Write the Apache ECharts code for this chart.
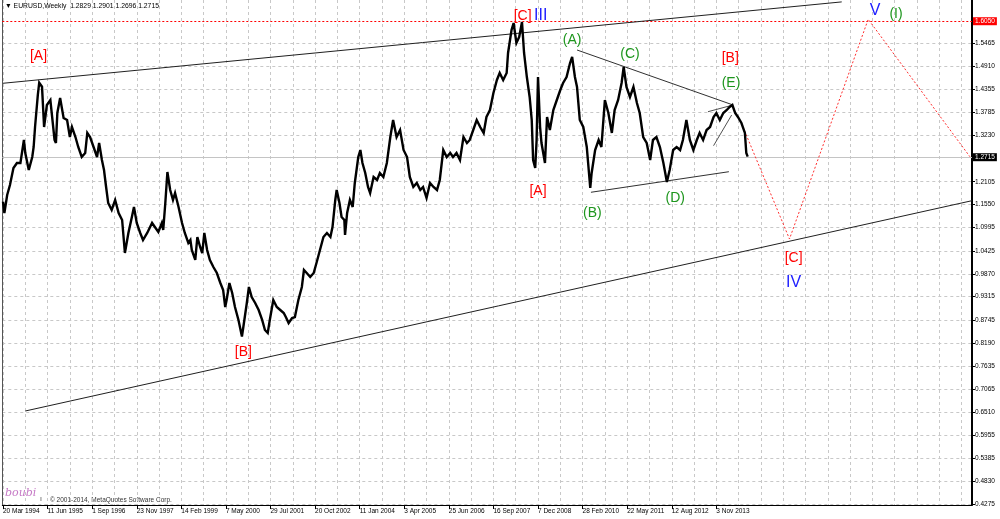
<!DOCTYPE html>
<html><head><meta charset="utf-8">
<script src="https://cdn.jsdelivr.net/npm/echarts@6/dist/echarts.min.js"></script>
<style>html,body{margin:0;padding:0;background:#fff}#c{width:1000px;height:519px}</style>
</head><body><div id="c"></div>
<script>
// ---- DATA (weeks counted from 20 Mar 1994, EURUSD weekly) ----
const priceWeeks = [0,2,6,10,15,20,25,30,32,37,42,44,46,50,52,56,59,63,68,70,74,76,78,82,87,92,96,99,104,108,113,118,121,125,130,135,138,142,145,148,151,156,161,166,171,175,180,185,188,192,197,201,207,214,218,223,228,230,233,236,240,244,247,252,257,261,266,269,
271,276,279,283,286,289,293,297,302,307,312,316,319,321,325,329,333,338,343,345,350,353,357,362,367,372,376,380,383,388,393,398,403,406,410,415,419,424,429,432,436,441,446,450,455,460,465,470,473,477,479,483,486,490,491,494,498,502,505,510,513,516,520,524,527,
532,537,541,546,551,556,560,565,570,575,580,584,589,594,599,603,608,613,618,623,627,632,637,642,646,651,656,661,666,670,675,680,685,690,694,699,704,709,713,718,723,725,730,733,737,741,745,748,752,756,759,761,764,766,768,771,773,778,781,785,
790,795,800,804,809,814,817,821,824,828,833,838,843,845,850,855,859,864,869,874,878,883,888,891,895,900,905,910,914,919,924,929,933,938,943,948,953,957,962,967,972,976,981,986,991,996,1000,1005,1010,1015,1020,1024,1029,1034,1039,1043,1047,1051,1055,1060,1065,1067,1069];
const priceCloses = [1.1620,1.1346,1.1783,1.2026,1.2438,1.2560,1.2560,1.3118,1.2802,1.2390,1.2705,1.2948,1.3433,1.4210,1.4508,1.4411,1.3433,1.3967,1.4088,1.4088,1.3118,1.3045,1.3773,1.4137,1.3651,1.3603,1.3190,1.3433,1.3190,1.2948,1.2705,1.2802,1.3288,1.3190,1.2948,1.2705,1.3045,1.2632,1.2390,1.1977,1.1589,1.1419,1.1662,1.1346,1.1176,1.0375,1.0861,1.1249,1.1492,1.1104,1.0861,1.0691,1.0861,1.1104,1.1006,1.0885,1.1104,1.0934,1.1589,1.2341,1.1904,1.1662,1.1831,1.1492,1.1104,1.0861,1.0618,1.0691,
1.0448,1.0206,1.0764,1.0521,1.0375,1.0861,1.0448,1.0206,1.0036,0.9890,0.9647,0.9478,0.9065,0.9235,0.9647,0.9405,0.9065,0.8750,0.8350,0.8580,0.9162,0.9550,0.9308,0.9162,0.8992,0.8750,0.8507,0.8434,0.8750,0.9235,0.9065,0.8992,0.8920,0.8822,0.8677,0.8798,0.8822,0.9235,0.9550,0.9963,0.9890,0.9793,0.9890,1.0133,1.0448,1.0764,1.0861,1.0764,1.1006,1.1662,1.1904,1.1589,1.1249,1.1176,1.0812,1.1346,1.1662,1.1492,1.2074,1.2705,1.2875,1.2560,1.2317,1.1977,1.1831,
1.2220,1.2147,1.2317,1.2220,1.2560,1.3190,1.3603,1.3190,1.3360,1.2875,1.2705,1.2220,1.1977,1.2074,1.1904,1.1977,1.1710,1.2074,1.1977,1.1904,1.2147,1.2875,1.2705,1.2802,1.2705,1.2802,1.2632,1.3190,1.3045,1.3118,1.3360,1.3603,1.3433,1.3288,1.3676,1.3846,1.4258,1.4574,1.4744,1.4574,1.4744,1.5229,1.5787,1.5957,1.5472,1.5617,1.5981,1.5229,1.4646,1.4161,1.3603,1.2632,1.2438,1.3118,1.4646,1.3433,1.3045,1.2560,1.3676,1.3360,
1.3846,1.4088,1.4331,1.4501,1.4646,1.4986,1.5132,1.4646,1.4404,1.3603,1.3433,1.2948,1.1953,1.2317,1.2875,1.3118,1.2948,1.4088,1.3773,1.3288,1.3846,1.4088,1.4501,1.4889,1.4404,1.4161,1.4404,1.4016,1.3773,1.3190,1.3045,1.2632,1.3118,1.3190,1.2948,1.2560,1.2098,1.2390,1.2875,1.2948,1.2875,1.3118,1.3603,1.3118,1.2875,1.3118,1.3288,1.3118,1.3360,1.3433,1.3676,1.3773,1.3603,1.3773,1.3846,1.3918,1.3967,1.3773,1.3676,1.3530,1.3288,1.2802,1.2715];

const xTickWeeks = [0,64,128,192,256,320,384,448,512,576,640,704,768,832,896,960,1024];
const xTickLabels = ['20 Mar 1994','11 Jun 1995','1 Sep 1996','23 Nov 1997','14 Feb 1999','7 May 2000','29 Jul 2001','20 Oct 2002','11 Jan 2004','3 Apr 2005','25 Jun 2006','16 Sep 2007','7 Dec 2008','28 Feb 2010','22 May 2011','12 Aug 2012','3 Nov 2013'];
const yTickValues = [1.5465,1.4910,1.4355,1.3785,1.3230,1.2105,1.1550,1.0995,1.0425,0.9870,0.9315,0.8745,0.8190,0.7635,0.7065,0.6510,0.5955,0.5385,0.4830,0.4275];

const redLevel = 1.6050;
const bidPrice = 1.2715;
const titleText = '\u25BC EURUSD,Weekly  1.2829 1.2901 1.2696 1.2715';

// trend lines (anchor points: [week, price])
const upperChannel = [[0,1.4494],[1204,1.6469]];
const lowerChannel = [[32,0.6541],[1391,1.1645]];
const triangleTop = [[824,1.5302],[1048,1.3967]];
const triangleBottom = [[844,1.1849],[1042,1.2348]];
const wedgeTop = [[1012,1.3804],[1048,1.3967]];
const wedgeBottom = [[1020,1.2979],[1046,1.3724]];
const projection = [[1060,1.3523],[1129,1.0715],[1242,1.6047],[1388,1.2712]];

// wave labels
const waveText  = ['[A]','[B]','[C]','III','[A]','(A)','(B)','(C)','(D)','[B]','(E)','[C]','IV','V','(I)'];
const waveWeek  = [51,345,746,772,768,817,846,900,965,1044,1045,1135,1135,1252,1282];
const wavePrice = [1.5156,0.7973,1.6127,1.6127,1.1880,1.5544,1.1346,1.5205,1.1710,1.5108,1.4501,1.0254,0.9647,1.6248,1.6175];
const waveDegree= ['primary','primary','primary','cycle','primary','inter','inter','inter','inter','primary','inter','primary','cycle','cycle','inter'];

// ---- CHART ----
const FONT = '"Liberation Sans", Arial, sans-serif';
const degreeColor = {primary:'#ff0000', cycle:'#2020ff', inter:'#1e961e'};
const degreeSize = {primary:14, cycle:16, inter:14};
const xGridWeeks = [];
for (let w = 0; w <= 1376; w += 32) xGridWeeks.push(w);

const chart = echarts.init(document.getElementById('c'), null, {renderer:'canvas'});
const trend = (pts, color, width, type) => ({
  type:'line', data:pts, showSymbol:false, symbol:'none', silent:true, z:4,
  lineStyle:{color:color, width:width, type:type||'solid'}
});
const option = {
  animation:false,
  backgroundColor:'#ffffff',
  grid:{left:2, right:28, top:0, bottom:14},
  xAxis:[
    {type:'value', min:-1, max:1391, position:'bottom',
     axisLine:{show:true, onZero:false, lineStyle:{color:'#000', width:1}},
     axisTick:{show:false, customValues:xGridWeeks},
     axisLabel:{show:false, customValues:xGridWeeks},
     splitLine:{show:true, lineStyle:{color:'#c8c8c8', width:1, type:[3,3]}}},
    {type:'value', min:-1, max:1391, position:'bottom',
     axisLine:{show:false, onZero:false},
     axisTick:{show:true, length:4, customValues:xTickWeeks, lineStyle:{color:'#000'}},
     axisLabel:{show:true, customValues:xTickWeeks, align:'left', margin:3, fontSize:6.5, color:'#000', fontFamily:FONT,
       formatter:function(v){const i = xTickWeeks.indexOf(Math.round(v)); return i >= 0 ? xTickLabels[i] : '';}},
     splitLine:{show:false}}
  ],
  yAxis:[
    {type:'value', min:0.4260, max:1.6515, position:'right',
     axisLine:{show:true, onZero:false, lineStyle:{color:'#000', width:2}},
     axisTick:{show:true, length:3, customValues:yTickValues, lineStyle:{color:'#000'}},
     axisLabel:{show:true, customValues:yTickValues, margin:3, fontSize:6.5, color:'#000', fontFamily:FONT,
       formatter:function(v){return v.toFixed(4);}},
     splitLine:{show:true, lineStyle:{color:'#c8c8c8', width:1, type:[3,3]}}},
    {type:'value', min:0.4260, max:1.6515, position:'left',
     axisLine:{show:true, onZero:false, lineStyle:{color:'#555', width:1}},
     axisTick:{show:false}, axisLabel:{show:false}, splitLine:{show:false}}
  ],
  series:[
    {type:'line', name:'EURUSD', data:priceWeeks.map((w,i)=>[w, priceCloses[i]]), showSymbol:false, symbol:'none', z:5,
     lineStyle:{color:'#000', width:2.4, join:'miter', miterLimit:4},
     markLine:{symbol:['none','none'], silent:true, animation:false, z:3,
       data:[
         {yAxis:redLevel, lineStyle:{color:'#ff0000', width:1, type:[2,2]},
          label:{show:true, position:'end', distance:1, formatter:redLevel.toFixed(4), backgroundColor:'#ff0000', color:'#fff', fontSize:6.5, fontFamily:FONT, padding:[1,2,0,2]}},
         {yAxis:bidPrice, lineStyle:{color:'#c4c4c4', width:1, type:'solid'},
          label:{show:true, position:'end', distance:1, formatter:bidPrice.toFixed(4), backgroundColor:'#000', color:'#fff', fontSize:6.5, fontFamily:FONT, padding:[1,2,0,2]}}
       ]}},
    trend(upperChannel, '#202020', 1),
    trend(lowerChannel, '#202020', 1),
    trend(triangleTop, '#303030', 1),
    trend(triangleBottom, '#303030', 1),
    trend(wedgeTop, '#505050', 1),
    trend(wedgeBottom, '#505050', 1),
    trend(projection, '#ff3030', 1, [2,2]),
    {type:'scatter', silent:true, z:6, symbolSize:1, itemStyle:{color:'rgba(0,0,0,0)'},
     data:waveText.map((t,i)=>({value:[waveWeek[i], wavePrice[i]], name:t,
       label:{color:degreeColor[waveDegree[i]], fontSize:degreeSize[waveDegree[i]]}})),
     label:{show:true, position:'inside', fontFamily:FONT, textBorderWidth:0, textShadowBlur:0, opacity:1,
       formatter:function(p){return p.name;}}}
  ],
  graphic:[
    {type:'text', left:5, top:3, style:{text:titleText, fill:'#000', font:'6.8px ' + FONT}},
    {type:'text', left:5, top:488, style:{text:'boubi', fill:'#c67ac6', font:'italic 11px "DejaVu Serif", serif'}},
    {type:'text', left:40, top:496, style:{text:'\u0131', fill:'#444', font:'7px ' + FONT}},
    {type:'text', left:50, top:497, style:{text:'\u00A9 2001-2014, MetaQuotes Software Corp.', fill:'#333', font:'6.5px ' + FONT}}
  ]
};
chart.setOption(option);
</script>
</body></html>
